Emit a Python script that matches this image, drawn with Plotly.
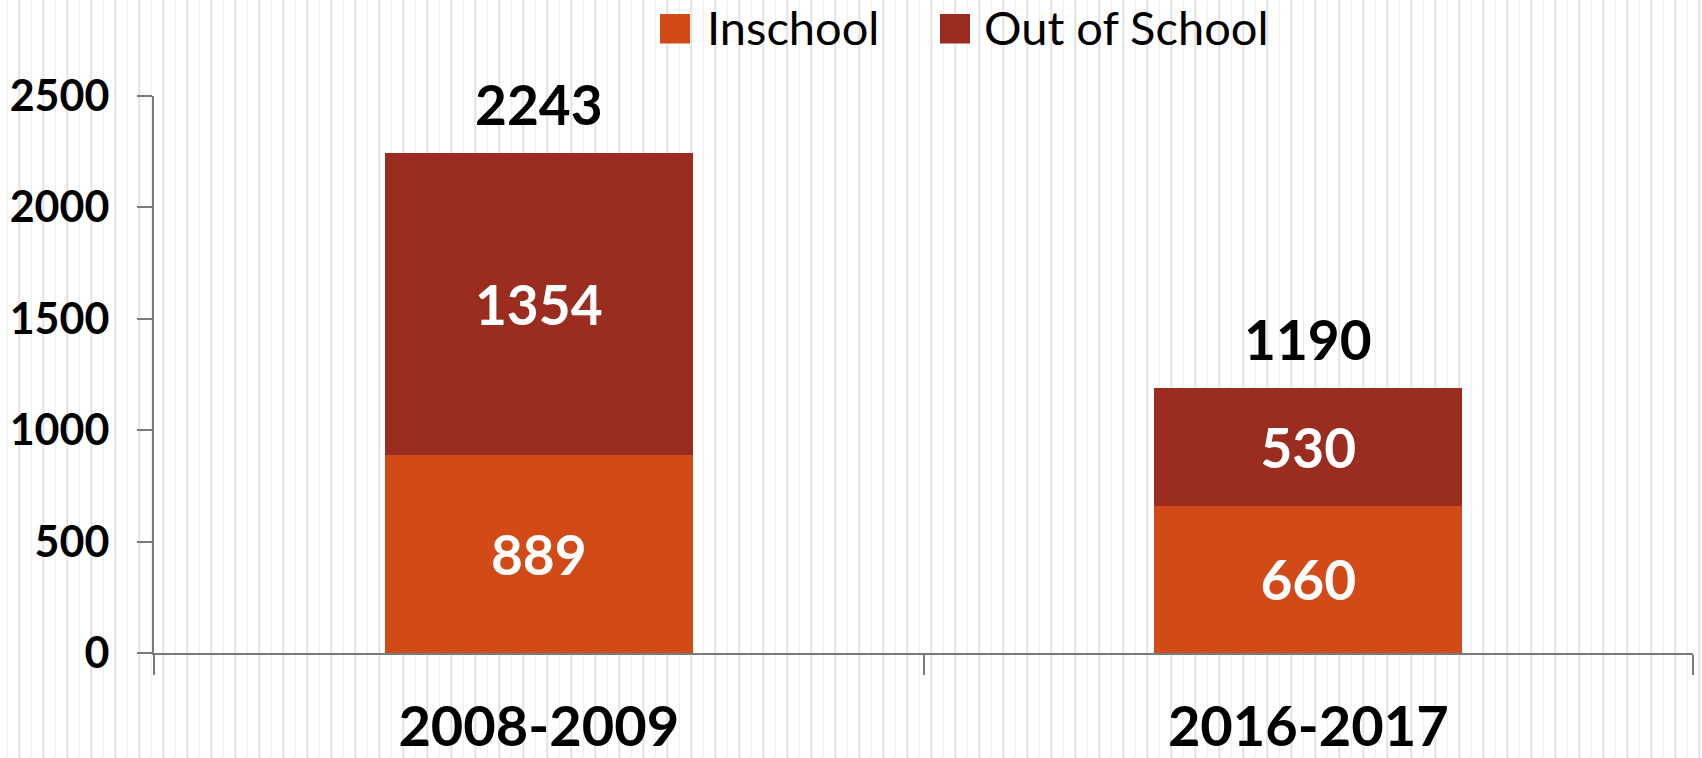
import plotly.graph_objects as go

# ---- data ----
categories = ["2008-2009", "2016-2017"]
series_names = ["Inschool", "Out of School"]
inschool = [889, 660]
out_of_school = [1354, 530]
y_ticks = [0, 500, 1000, 1500, 2000, 2500]
colors = ["#D34A19", "#9B2C20"]

totals = [a + b for a, b in zip(inschool, out_of_school)]

# ---- geometry (pixels) ----
W, H = 1702, 758
L, R, T, B = 154, 9, 96, 105
PW, PH = W - L - R, H - T - B


def px_x(px):
    return (px - L) / PW


def px_y(py):
    return (H - B - py) / PH


FONT = "Lato"
AXIS_COLOR = "#7a7a7a"

fig = go.Figure()
for name, vals, col in zip(series_names, [inschool, out_of_school], colors):
    fig.add_trace(go.Bar(
        x=categories, y=vals, name=name,
        marker=dict(color=col, line=dict(width=0)),
        width=0.4,
        text=[str(v) for v in vals],
        textposition="inside", insidetextanchor="middle",
        textangle=0, constraintext="none",
        textfont=dict(family=FONT, size=55, color="white", weight="bold"),
        showlegend=False, hoverinfo="x+y+name",
    ))

# total labels above stacks
for cat, tot in zip(categories, totals):
    fig.add_annotation(
        x=cat, y=tot, text=str(tot), showarrow=False,
        xref="x", yref="y", yanchor="bottom", yshift=14,
        font=dict(family=FONT, size=55, color="black", weight="bold"),
    )

shapes = []
# background vertical stripe pattern (decoration)
k = 0
px = 7.3
while px < W:
    thick = (k % 2 == 1)
    shapes.append(dict(
        type="line", xref="paper", yref="paper",
        x0=px_x(px), x1=px_x(px), y0=px_y(H), y1=px_y(0),
        line=dict(color="#e2e2e2" if thick else "#ebebeb", width=2 if thick else 1),
        layer="below",
    ))
    k += 1
    px += 12

# custom legend (large swatches like the original)
legend_items = [(660, 705), (940, 982)]
for (sq_x, tx_x), name, col in zip(legend_items, series_names, colors):
    shapes.append(dict(
        type="rect", xref="paper", yref="paper",
        x0=px_x(sq_x), x1=px_x(sq_x + 30), y0=px_y(43.5), y1=px_y(14),
        fillcolor=col, line=dict(width=0), layer="above",
    ))
    fig.add_annotation(
        x=px_x(tx_x), y=px_y(27), xref="paper", yref="paper",
        xanchor="left", yanchor="middle", showarrow=False, text=name,
        font=dict(family=FONT, size=47, color="black"),
    )

fig.update_layout(
    width=W, height=H,
    margin=dict(l=L, r=R, t=T, b=B, pad=0),
    barmode="stack",
    paper_bgcolor="white",
    plot_bgcolor="rgba(0,0,0,0)",
    showlegend=False,
    shapes=shapes,
    xaxis=dict(
        type="category", range=[-0.5, 1.5], automargin=False,
        showline=True, linecolor=AXIS_COLOR, linewidth=2,
        ticks="outside", ticklen=20, tickwidth=2, tickcolor=AXIS_COLOR,
        tickson="boundaries",
        tickfont=dict(family=FONT, size=56, color="black", weight="bold"),
        ticklabelstandoff=24,
        showgrid=False, zeroline=False,
    ),
    yaxis=dict(
        range=[0, 2500], tickmode="array", tickvals=y_ticks, automargin=False,
        ticktext=[str(v) for v in y_ticks],
        showline=True, linecolor=AXIS_COLOR, linewidth=2,
        ticks="outside", ticklen=15, tickwidth=2, tickcolor=AXIS_COLOR,
        tickfont=dict(family=FONT, size=43, color="black", weight="bold"),
        ticklabelstandoff=19,
        showgrid=False, zeroline=False,
    ),
)

fig.write_html(
    "out.html",
    config={"displayModeBar": False},
    post_script="document.body.style.margin='0';document.body.style.overflow='hidden';",
)
